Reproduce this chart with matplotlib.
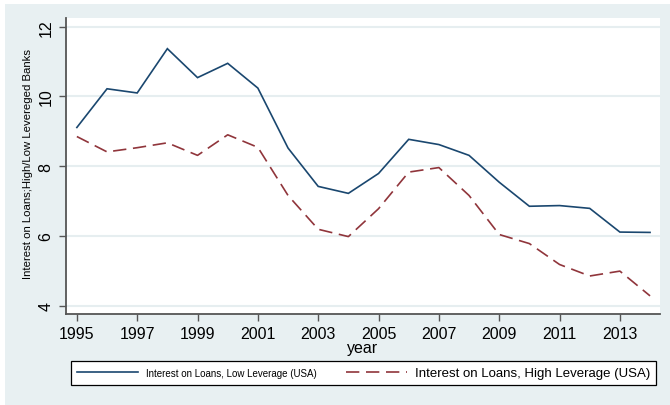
import matplotlib
matplotlib.use("Agg")
import matplotlib.pyplot as plt
from matplotlib.patches import Rectangle

plt.rcParams['font.family'] = ['Liberation Sans', 'DejaVu Sans']

years = list(range(1995, 2015))
low_leverage = [9.11, 10.22, 10.10, 11.37, 10.54, 10.95, 10.24, 8.52, 7.42, 7.22,
                7.79, 8.77, 8.62, 8.31, 7.54, 6.85, 6.87, 6.79, 6.11, 6.10]
high_leverage = [8.85, 8.41, 8.53, 8.67, 8.31, 8.90, 8.54, 7.16, 6.19, 5.98,
                 6.78, 7.83, 7.96, 7.16, 6.04, 5.78, 5.18, 4.85, 4.99, 4.28]
xticks = list(range(1995, 2015, 2))
yticks = [4, 6, 8, 10, 12]

BG = '#E8F0F2'
NAVY = '#1A476F'
MAROON = '#90353B'

W, H = 670, 406
fig = plt.figure(figsize=(W / 100, H / 100), dpi=100, facecolor='white')
# graph region (the few px of white at top/left are the image border)
fig.patches.append(Rectangle((5 / W, 0), 665 / W, 401 / H, transform=fig.transFigure,
                             facecolor=BG, edgecolor='none', zorder=-10))

ax = fig.add_axes([66 / W, 1 - 315 / H, 594 / W, 296 / H])
ax.set_facecolor('white')

l1, = ax.plot(years, low_leverage, color=NAVY, lw=1.2, solid_joinstyle='miter')
l2, = ax.plot(years, high_leverage, color=MAROON, lw=1.2, dashes=(8, 4))

ax.set_xlim(1994.64, 2014.33)
ax.set_ylim(3.76, 12.25)
ax.set_xticks(xticks)
ax.set_yticks(yticks)
ax.set_yticklabels([str(v) for v in yticks], rotation=90, va='center')
ax.grid(axis='y', color='#E6EEF0', lw=1.5)
ax.set_axisbelow(True)

for s in ('top', 'right'):
    ax.spines[s].set_visible(False)
for s in ('left', 'bottom'):
    ax.spines[s].set_color('#555555')
    ax.spines[s].set_linewidth(1.3)
ax.tick_params(axis='both', direction='out', length=5, width=1, color='#555555',
               labelsize=11.5, pad=4)

ax.set_xlabel('year', fontsize=11.5, labelpad=-1)
ax.set_ylabel('Interest on Loans;High/Low Levereged Banks', fontsize=8.2)
ax.yaxis.set_label_coords(-33 / 594, 0.51)

leg = fig.legend([l1, l2],
                 ['Interest on Loans, Low Leverage (USA)',
                  'Interest on Loans, High Leverage (USA)'],
                 ncol=2, loc='center', mode='expand',
                 bbox_to_anchor=(71 / W, 1 - 387 / H, 585 / W, 26 / H),
                 fontsize=9.5, handlelength=4.6, handletextpad=0.6,
                 borderpad=0.45, borderaxespad=0, fancybox=False,
                 edgecolor='black', facecolor='white', framealpha=1)
leg.get_frame().set_linewidth(0.9)
leg.get_texts()[0].set_fontsize(7)

fig.savefig('out.png', dpi=100, facecolor=fig.get_facecolor())
